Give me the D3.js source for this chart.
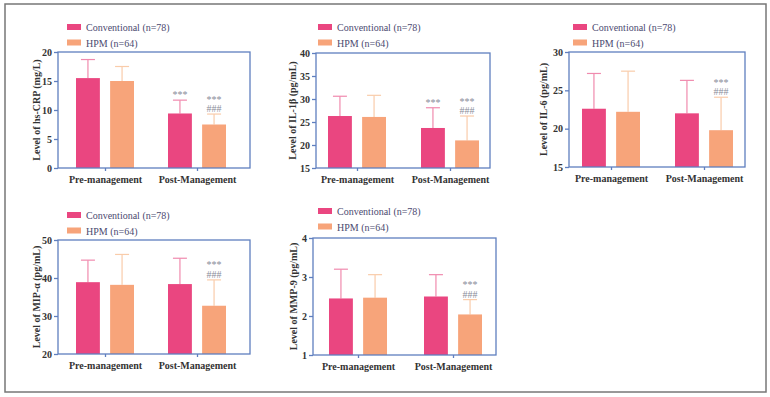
<!DOCTYPE html>
<html lang="en">
<head>
  <meta charset="UTF-8">
  <title>Inflammatory markers</title>
  <style>
    body { margin: 0; background: #fff; }
    svg text { font-family: "Liberation Serif", "DejaVu Serif", serif; }
  </style>
</head>
<body>
  <div id="chart"></div>

  <script src="https://d3js.org/d3.v7.min.js"></script>
  <script>

    const categories = ["Pre-management", "Post-Management"];
    const series = ["Conventional (n=78)", "HPM (n=64)"];

    // means and SD per marker, [pre, post]
    const crpConv = [15.5, 9.4],  crpConvSd = [3.2, 2.3];
    const crpHpm  = [15.0, 7.5],  crpHpmSd  = [2.5, 1.8];
    const il1Conv = [26.3, 23.7], il1ConvSd = [4.3, 4.4];
    const il1Hpm  = [26.1, 21.0], il1HpmSd  = [4.7, 5.3];
    const il6Conv = [22.6, 22.0], il6ConvSd = [4.6, 4.3];
    const il6Hpm  = [22.2, 19.8], il6HpmSd  = [5.3, 4.3];
    const mipConv = [38.9, 38.4], mipConvSd = [5.8, 6.8];
    const mipHpm  = [38.2, 32.7], mipHpmSd  = [8.0, 6.8];
    const mmpConv = [2.45, 2.50], mmpConvSd = [0.75, 0.56];
    const mmpHpm  = [2.47, 2.04], mmpHpmSd  = [0.59, 0.38];

    // significance marks, [pre, post] x [conv, hpm]
    const crpSig = [["", ""], ["***", "***\n###"]];
    const il1Sig = [["", ""], ["***", "***\n###"]];
    const il6Sig = [["", ""], ["", "***\n###"]];
    const mipSig = [["", ""], ["", "***\n###"]];
    const mmpSig = [["", ""], ["", "***\n###"]];

    const titles = ["Level of hs-CRP (mg/L)", "Level of IL-1β (pg/mL)", "Level of IL-6 (pg/mL)",
                    "Level of MIP-α (pg/mL)", "Level of MMP-9 (pg/mL)"];
    const yDomains = [[0, 20], [15, 40], [15, 30], [20, 50], [1, 4]];
    const yTicks = [[0, 5, 10, 15, 20], [15, 20, 25, 30, 35, 40], [15, 20, 25, 30], [20, 30, 40, 50], [1, 2, 3, 4]];

    const panelData = [
      [crpConv, crpConvSd, crpHpm, crpHpmSd, crpSig],
      [il1Conv, il1ConvSd, il1Hpm, il1HpmSd, il1Sig],
      [il6Conv, il6ConvSd, il6Hpm, il6HpmSd, il6Sig],
      [mipConv, mipConvSd, mipHpm, mipHpmSd, mipSig],
      [mmpConv, mmpConvSd, mmpHpm, mmpHpmSd, mmpSig]
    ];

    // layout of each panel
    const layout = [
      {l: 58,  r: 250, t: 52,  b: 168, c0: 105, c1: 197, tx: 40,  lx: 67,  ly: 24},
      {l: 316, r: 490, t: 53,  b: 168, c0: 357, c1: 450, tx: 296, lx: 318, ly: 24},
      {l: 569, r: 745, t: 52,  b: 167, c0: 611, c1: 704, tx: 547, lx: 573, ly: 24},
      {l: 58,  r: 250, t: 240, b: 354, c0: 105, c1: 197, tx: 40,  lx: 67,  ly: 212},
      {l: 313, r: 496, t: 238, b: 355, c0: 358, c1: 453, tx: 297, lx: 318, ly: 208}
    ];

    const width = 770, height = 397;
    const fill = ["#ea4680", "#f7a47a"];
    const errColor = ["#f08aae", "#f9ccaa"];
    const axisColor = "#5f7fbf";
    const serif = "Liberation Serif";

    const svg = d3.select("#chart")
      .append("svg")
      .attr("width", width)
      .attr("height", height);

    svg.append("rect")
      .attr("x", 5).attr("y", 4)
      .attr("width", 761).attr("height", 388)
      .attr("fill", "none")
      .attr("stroke", "#777")
      .attr("stroke-width", 1.5);

    panelData.forEach((p, i) => {
      const L = layout[i];
      const g = svg.append("g");

      const x = d3.scalePoint(categories, [L.c0, L.c1]);
      const xs = d3.scaleBand(series, [-29, 29]).paddingInner(0.3);
      const y = d3.scaleLinear(yDomains[i], [L.b, L.t]);

      const rows = [];
      categories.forEach((c, ci) => {
        rows.push({cat: c, s: 0, mean: p[0][ci], sd: p[1][ci], sig: p[4][ci][0]});
        rows.push({cat: c, s: 1, mean: p[2][ci], sd: p[3][ci], sig: p[4][ci][1]});
      });
      const cx = d => x(d.cat) + xs(series[d.s]) + xs.bandwidth() / 2;

      // error whiskers (upper only)
      const err = g.selectAll(".err").data(rows).join("g")
        .attr("stroke", d => errColor[d.s])
        .attr("stroke-width", 1.2);
      err.append("line")
        .attr("x1", cx).attr("x2", cx)
        .attr("y1", d => y(d.mean))
        .attr("y2", d => y(d.mean + d.sd));
      err.append("line")
        .attr("x1", d => cx(d) - 7)
        .attr("x2", d => cx(d) + 7)
        .attr("y1", d => y(d.mean + d.sd))
        .attr("y2", d => y(d.mean + d.sd));

      g.selectAll(".bar").data(rows).join("rect")
        .attr("x", d => x(d.cat) + xs(series[d.s]))
        .attr("y", d => y(d.mean))
        .attr("width", xs.bandwidth())
        .attr("height", d => y(yDomains[i][0]) - y(d.mean))
        .attr("fill", d => fill[d.s]);

      // significance marks, one text per line
      const sigs = [];
      rows.filter(d => d.sig).forEach(d => {
        const lines = d.sig.split("\n");
        lines.forEach((t, k) => sigs.push({d, t, up: lines.length - 1 - k}));
      });
      g.selectAll(".sig").data(sigs).join("text")
        .attr("x", s => cx(s.d))
        .attr("y", s => y(s.d.mean + s.d.sd) - 2 - s.up * 9.5)
        .attr("text-anchor", "middle")
        .attr("fill", "#8a8a9a")
        .attr("font-family", serif)
        .attr("font-size", 10)
        .text(s => s.t);

      // frame
      g.append("rect")
        .attr("x", L.l).attr("y", L.t)
        .attr("width", L.r - L.l).attr("height", L.b - L.t)
        .attr("fill", "none")
        .attr("stroke", axisColor)
        .attr("stroke-width", 1.3);

      const yAxis = g.append("g")
        .attr("transform", `translate(${L.l},0)`)
        .call(d3.axisLeft(y).tickValues(yTicks[i]).tickFormat(d3.format("d")).tickSize(4).tickPadding(2));
      yAxis.select(".domain").remove();
      yAxis.selectAll("line").attr("stroke", axisColor).attr("stroke-width", 1.3);
      yAxis.selectAll("text")
        .attr("font-family", serif)
        .attr("font-size", 10).attr("font-weight", "bold").attr("fill", "#333");

      const xAxis = g.append("g")
        .attr("transform", `translate(0,${L.b})`)
        .call(d3.axisBottom(x).tickSize(3).tickPadding(5));
      xAxis.select(".domain").remove();
      xAxis.selectAll("line").attr("stroke", axisColor).attr("stroke-width", 1.3);
      xAxis.selectAll("text")
        .attr("font-family", serif)
        .attr("font-size", 10).attr("font-weight", "bold").attr("fill", "#333");

      g.append("text")
        .attr("transform", `translate(${L.tx},${(L.t + L.b) / 2}) rotate(-90)`)
        .attr("text-anchor", "middle")
        .attr("font-family", serif)
        .attr("font-size", 10)
        .attr("font-weight", "bold")
        .attr("fill", "#333")
        .text(titles[i]);

      // legend
      const leg = g.selectAll(".legend").data(series).join("g")
        .attr("transform", (d, k) => `translate(${L.lx},${L.ly + k * 15.5})`);
      leg.append("rect")
        .attr("width", 14).attr("height", 6)
        .attr("fill", (d, k) => fill[k]);
      leg.append("text")
        .attr("x", 19).attr("y", 7)
        .attr("font-family", serif)
        .attr("font-size", 10)
        .attr("fill", "#4b4a70")
        .text(d => d);
    });

  </script>
</body>
</html>
